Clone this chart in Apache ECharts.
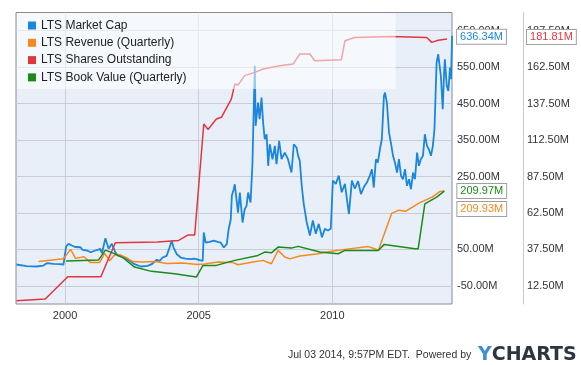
<!DOCTYPE html>
<html>
<head>
<meta charset="utf-8">
<script src="https://cdn.jsdelivr.net/npm/echarts@6/dist/echarts.min.js"></script>
<style>
html,body{margin:0;padding:0;background:#fff;}
#chart{width:581px;height:365px;}
</style>
</head>
<body>
<div id="chart"></div>
<script>
// ---- Data (years as decimal, values in millions) ----
const mcapYears = [1998.18,1998.56,1998.93,1999.19,1999.32,1999.57,1999.79,1999.94,2000.04,2000.13,
2000.25,2000.38,2000.57,2000.66,2000.82,2000.96,2001.13,2001.22,2001.32,2001.38,
2001.51,2001.63,2001.75,2001.88,2001.97,2002.07,2002.23,2002.42,2002.60,2002.83,
2003.09,2003.24,2003.43,2003.54,2003.65,2003.80,2003.91,2003.99,2004.06,2004.18,
2004.33,2004.51,2004.70,2004.85,2005.00,2005.15,2005.19,2005.26,2005.41,2005.56,
2005.71,2005.82,2005.94,2006.05,2006.12,2006.20,2006.24,2006.31,2006.35,2006.47,
2006.54,2006.64,2006.72,2006.79,2006.85,2006.94,2007.01,2007.06,2007.10,2007.13,
2007.22,2007.28,2007.35,2007.41,2007.47,2007.54,2007.60,2007.66,2007.76,2007.85,
2007.91,2008.01,2008.10,2008.22,2008.34,2008.47,2008.56,2008.66,2008.72,2008.78,
2008.86,2008.93,2009.04,2009.16,2009.27,2009.38,2009.49,2009.61,2009.72,2009.83,
2009.94,2010.02,2010.13,2010.24,2010.35,2010.47,2010.62,2010.73,2010.84,2010.96,
2011.07,2011.18,2011.29,2011.40,2011.48,2011.55,2011.63,2011.70,2011.78,2011.85,
2011.93,2011.97,2012.04,2012.12,2012.19,2012.27,2012.34,2012.42,2012.49,2012.57,
2012.64,2012.72,2012.79,2012.87,2012.94,2013.02,2013.09,2013.17,2013.24,2013.31,
2013.39,2013.46,2013.54,2013.61,2013.69,2013.76,2013.82,2013.90,2013.96,2014.06,
2014.13,2014.18,2014.21,2014.28,2014.34,2014.40,2014.44,2014.48];
const mcapValues = [8.4,3.7,2.9,5.6,11.9,10.3,9.7,8.4,57.8,65.2,
60.5,56.4,55.8,48.7,46.8,42.1,46.8,48.7,51.4,39.4,
80.5,51.4,65.2,42.1,33.1,33.1,27.6,18.5,9.2,2.9,
4.8,9.2,21.3,18.5,27.6,32.2,55,73.4,55,36.6,
27.6,24.8,22.9,24.8,21.3,18.5,96.2,68.7,70.6,74.2,
70.6,68.7,55,64.1,105.2,132.6,196.8,215,228.7,151,
205.9,123.6,160.1,169.4,205.9,178.5,283.5,439.9,553.5,388.9,
452.8,407,466.5,397.9,352.1,365.8,279.2,338.4,297.3,334,
283.5,347.7,297.3,315.6,297.3,260.8,338.4,329.4,306.6,293.7,
220.4,174.9,124.4,87.9,129.1,92.6,120,83.3,106.3,101.6,
106.3,238.8,229.8,252.5,206.7,229.8,146.9,238.8,216.9,237.4,
201.8,221,233.3,251.7,269.8,219.6,297.3,288.2,324.7,352.1,
471.2,480.2,452.8,370.5,343.1,306.6,288.2,260.8,297.3,251.7,
242.4,269.8,224.3,242.4,215,260.8,242.4,315.6,279.2,297.3,
306.6,365.8,334,324.7,306.6,334,379.6,562.5,585.3,526.1,
434.4,535.1,571.6,498.6,484.9,548.8,516.7,636.34];

const revYears = [1999.01,1999.94,2000.21,2000.39,2000.71,2000.94,2001.29,2001.48,2001.67,2001.85,
2002.08,2002.30,2002.53,2002.90,2003.39,2003.80,2004.40,2004.96,2005.22,2005.71,
2006.28,2006.47,2007.03,2007.41,2007.72,2007.97,2008.22,2008.41,2008.78,2009.41,
2009.91,2010.47,2011.34,2011.59,2011.72,2012.22,2012.49,2012.75,2013.24,2013.73,
2014.03,2014.19];
const revValues = [16.4,24.1,49.9,25.2,29.6,13.7,13.7,38.9,18.6,34.2,
34.2,27.4,16.4,15.1,16.4,11.0,12.3,8.2,9.6,15.1,
13.7,7.7,15.1,19.7,10.4,47.1,28.8,23.8,31.5,37.0,
43.8,49.9,57.5,51.5,47.1,148.8,157.5,154.8,176.7,193.2,
208.8,209.93];

const sharesYears = [1998.18,1999.26,2000.10,2001.34,2001.88,2003.46,2004.25,2004.59,2004.85,2005.19,
2005.35,2005.66,2005.85,2006.22,2006.35,2006.47,2006.72,2007.10,2007.41,2008.03,
2008.53,2008.78,2009.16,2009.34,2010.34,2010.47,2010.84,2012.22,2013.53,2013.72,
2013.96,2014.29];
const sharesValues = [2.3,3.4,18.7,18.7,42.0,42.5,43.6,47.3,47.3,123.5,
119.7,126.9,128.1,140.6,150.9,150.2,156.7,158.9,161.2,163.5,
164.6,171.5,171.5,166.9,167.6,180.6,182.9,183.6,182.9,179.5,
181.0,181.81];

const bookYears = [2000.04,2001.25,2001.51,2001.82,2002.19,2002.60,2003.23,2004.10,2004.91,2005.16,
2005.66,2006.35,2007.22,2007.47,2007.72,2007.97,2008.47,2008.72,2009.53,2010.22,
2010.47,2011.72,2011.94,2013.09,2013.21,2013.46,2013.90,2014.19];
const bookValues = [17.8,20.5,47.9,38.9,26.0,1.4,-10.4,-17.0,-26.0,6.0,
6.0,19.7,33.4,42.5,40.5,56.2,53.4,58.1,42.5,37.8,
47.1,47.1,63.6,51.5,51.5,174.8,193.2,209.97];

const xTicks = [2000, 2005, 2010];
const leftTicks = [-50, 50, 150, 250, 350, 450, 550, 650];
const rightTicks = [12.5, 37.5, 62.5, 87.5, 112.5, 137.5, 162.5, 187.5];
const seriesNames = ['LTS Market Cap','LTS Revenue (Quarterly)','LTS Shares Outstanding','LTS Book Value (Quarterly)'];
const colors = ['#1a86dc','#f5891f','#e2363d','#1a8a1a'];

function pairs(xs, ys){ const out=[]; for(let i=0;i<Math.min(xs.length,ys.length);i++) out.push([xs[i],ys[i]]); return out; }

const FONT = '"Liberation Sans", Arial, sans-serif';
function endLbl(color, dist, off){
  return {show:true, formatter: p => p.value[1].toFixed(2)+'M', color: color, fontFamily: FONT, fontSize: 11,
    backgroundColor:'#fff', borderColor:'#a0a0a0', borderWidth:1, padding:[2,3,1,3], distance: dist, offset: off};
}

const chart = echarts.init(document.getElementById('chart'), null, {renderer:'canvas'});
chart.setOption({
  animation:false,
  backgroundColor:'#fff',
  color: colors,
  title:[
    {text:'Jul 03 2014, 9:57PM EDT.  Powered by', left:288, top:350, padding:0,
     textStyle:{fontSize:10.5, fontWeight:'normal', color:'#333', fontFamily:FONT}},
    {text:'{y|Y}{c|CHARTS}', left:478, top:346, padding:0,
     textStyle:{rich:{
       y:{fontSize:19, fontWeight:'bold', color:'#3d8fd6', fontFamily:'"DejaVu Sans", sans-serif'},
       c:{fontSize:19, fontWeight:'bold', color:'#2f3540', fontFamily:'"DejaVu Sans", sans-serif'}}}}
  ],
  legend:{
    orient:'vertical', left:17, top:13, padding:[5.5,209,4.5,11],
    itemWidth:8, itemHeight:8, itemGap:3.3, icon:'rect',
    backgroundColor:'rgba(255,255,255,0.55)', selectedMode:false, z:10,
    textStyle:{fontSize:12, color:'#222', fontFamily:FONT, lineHeight:14},
    data: seriesNames.map(n=>({name:n, itemStyle:{opacity:1}}))
  },
  grid:{left:16, right:129, top:12.5, bottom:61, show:true, backgroundColor:'#e9eff9', borderColor:'#8c8c8c', borderWidth:1},
  xAxis:{
    type:'value', min:1998.165, max:2014.476,
    axisLine:{show:false}, axisTick:{show:false, customValues:xTicks},
    axisLabel:{customValues:xTicks, formatter: v=>String(v), color:'#333', fontSize:11, fontFamily:FONT, margin:6},
    splitLine:{show:true, lineStyle:{color:'#c8ccd4', width:1}}
  },
  yAxis:[
    {type:'value', position:'right', min:-100, max:700,
     axisLine:{show:false}, axisTick:{show:false, customValues:leftTicks},
     axisLabel:{customValues:leftTicks, formatter: v=>v.toFixed(2)+'M', color:'#333', fontSize:11, fontFamily:FONT, margin:5},
     splitLine:{show:true, lineStyle:{color:'#c8ccd4', width:1}}},
    {type:'value', position:'right', offset:71, min:0, max:200,
     axisLine:{show:true, lineStyle:{color:'#c8c8c8'}}, axisTick:{show:false, customValues:rightTicks},
     axisLabel:{customValues:rightTicks, formatter: v=>v.toFixed(2)+'M', color:'#333', fontSize:11, fontFamily:FONT, margin:4},
     splitLine:{show:false}}
  ],
  series:[
    {name:seriesNames[0], type:'line', data:pairs(mcapYears,mcapValues), showSymbol:false, yAxisIndex:0,
     lineStyle:{width:1.8, color:colors[0]}, itemStyle:{color:colors[0]}, z:2,
     endLabel: endLbl(colors[0], 5, [0,1])},
    {name:seriesNames[1], type:'line', data:pairs(revYears,revValues), showSymbol:false, yAxisIndex:0,
     lineStyle:{width:1.5, color:colors[1]}, itemStyle:{color:colors[1]}, z:3,
     endLabel: endLbl(colors[1], 13, [0,18])},
    {name:seriesNames[2], type:'line', data:pairs(sharesYears,sharesValues), showSymbol:false, yAxisIndex:1,
     lineStyle:{width:1.5, color:colors[2]}, itemStyle:{color:colors[2]}, z:3,
     endLabel: endLbl(colors[2], 80, [0,-2])},
    {name:seriesNames[3], type:'line', data:pairs(bookYears,bookValues), showSymbol:false, yAxisIndex:0,
     lineStyle:{width:1.5, color:colors[3]}, itemStyle:{color:colors[3]}, z:3,
     endLabel: endLbl(colors[3], 13, [0,0])}
  ]
});
</script>
</body>
</html>
